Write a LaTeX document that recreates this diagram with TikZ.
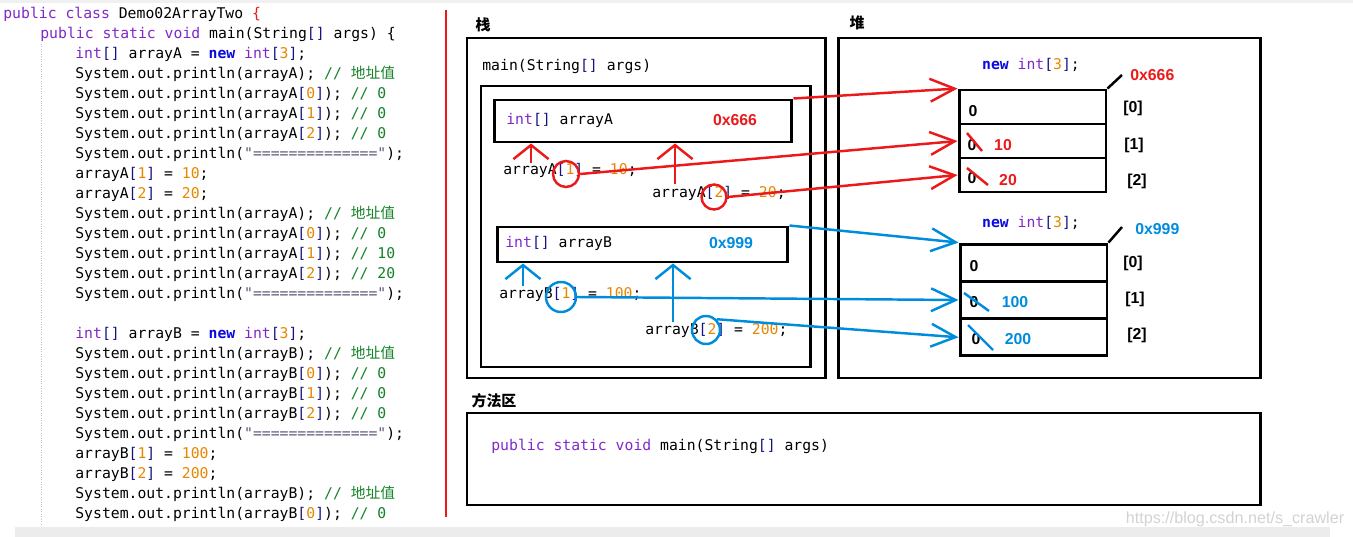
\documentclass[tikz,border=0pt]{standalone}
\usepackage{fontspec}
\setsansfont{Liberation Sans}
\setmonofont{DejaVu Sans Mono}
\newfontfamily\cjk{Noto Sans CJK SC}
\usetikzlibrary{arrows.meta}

\definecolor{kwcol}{RGB}{127,40,200}
\definecolor{newcol}{RGB}{10,10,220}
\definecolor{brcol}{RGB}{20,20,130}
\definecolor{numcol}{RGB}{230,135,0}
\definecolor{cmtcol}{RGB}{20,130,40}
\definecolor{strcol}{RGB}{90,90,120}
\definecolor{refred}{RGB}{235,25,25}
\definecolor{refblue}{RGB}{0,140,220}

\newcommand{\kwd}[1]{\textcolor{kwcol}{#1}}
\newcommand{\newkw}[1]{\textcolor{newcol}{\bfseries #1}}
\newcommand{\brk}[1]{\textcolor{brcol}{#1}}
\newcommand{\numb}[1]{\textcolor{numcol}{#1}}
\newcommand{\cmt}[1]{\textcolor{cmtcol}{#1}}
\newcommand{\strg}[1]{\textcolor{strcol}{#1}}
\newcommand{\addr}{\cmt{// {\cjk 地址值}}}

\begin{document}
\begin{tikzpicture}[x=0.02cm, y=-0.02cm,
        code/.style={anchor=west, inner sep=0pt, text height=7pt, text depth=2pt, font=\ttfamily\fontsize{8.4}{10}\selectfont},
        val/.style={inner sep=0pt, font=\sffamily\bfseries\fontsize{9}{10}\selectfont},
        head/.style={inner sep=0pt, font=\cjk\bfseries\fontsize{8.5}{10}\selectfont},
        frame/.style={line width=1.7pt},
        cell/.style={draw, line width=1.7pt, minimum width=2.94cm, inner sep=0pt},
        varbox/.style={draw, line width=1.7pt, inner sep=0pt},
        ring/.style={draw, circle, line width=1.4pt, inner sep=0pt},
        redarr/.style={draw, refred, line width=1.4pt, -{Straight Barb[length=14pt,width=13pt]}},
        bluearr/.style={draw, refblue, line width=1.4pt, -{Straight Barb[length=14pt,width=13pt]}},
        uparr/.style={draw, line width=1.4pt, -{Straight Barb[length=8pt,width=20pt]}}]
        \useasboundingbox (0,0) rectangle (1353,537);
        \fill[gray!12] (0,0) rectangle (1353,3);
        \fill[gray!15] (15,527) rectangle (1330,537);
        \draw[gray!50, densely dotted] (41,44) -- (41,525);
        \draw[refred, line width=1.4pt] (446,10) -- (446,517);

        % code
        \node[code] (c1) at (3,14) {\kwd{public class} Demo02ArrayTwo \textcolor{refred}{\{}};
        \node[code] (c2) at (40,34) {\kwd{public static void} main(String\brk{[]} args) \{};
        \node[code] (c3) at (75,54) {\kwd{int}\brk{[]} arrayA = \newkw{new} \kwd{int}\brk{[}\numb{3}\brk{]};};
        \node[code] (c4) at (75,74) {System.out.println(arrayA); \addr};
        \node[code] (c5) at (75,94) {System.out.println(arrayA\brk{[}\numb{0}\brk{]}); \cmt{// 0}};
        \node[code] (c6) at (75,114) {System.out.println(arrayA\brk{[}\numb{1}\brk{]}); \cmt{// 0}};
        \node[code] (c7) at (75,134) {System.out.println(arrayA\brk{[}\numb{2}\brk{]}); \cmt{// 0}};
        \node[code] (c8) at (75,154) {System.out.println(\strg{"=============="});};
        \node[code] (c9) at (75,174) {arrayA\brk{[}\numb{1}\brk{]} = \numb{10};};
        \node[code] (c10) at (75,194) {arrayA\brk{[}\numb{2}\brk{]} = \numb{20};};
        \node[code] (c11) at (75,214) {System.out.println(arrayA); \addr};
        \node[code] (c12) at (75,234) {System.out.println(arrayA\brk{[}\numb{0}\brk{]}); \cmt{// 0}};
        \node[code] (c13) at (75,254) {System.out.println(arrayA\brk{[}\numb{1}\brk{]}); \cmt{// 10}};
        \node[code] (c14) at (75,274) {System.out.println(arrayA\brk{[}\numb{2}\brk{]}); \cmt{// 20}};
        \node[code] (c15) at (75,294) {System.out.println(\strg{"=============="});};
        \node[code] (c16) at (75,334) {\kwd{int}\brk{[]} arrayB = \newkw{new} \kwd{int}\brk{[}\numb{3}\brk{]};};
        \node[code] (c17) at (75,354) {System.out.println(arrayB); \addr};
        \node[code] (c18) at (75,374) {System.out.println(arrayB\brk{[}\numb{0}\brk{]}); \cmt{// 0}};
        \node[code] (c19) at (75,394) {System.out.println(arrayB\brk{[}\numb{1}\brk{]}); \cmt{// 0}};
        \node[code] (c20) at (75,414) {System.out.println(arrayB\brk{[}\numb{2}\brk{]}); \cmt{// 0}};
        \node[code] (c21) at (75,434) {System.out.println(\strg{"=============="});};
        \node[code] (c22) at (75,454) {arrayB\brk{[}\numb{1}\brk{]} = \numb{100};};
        \node[code] (c23) at (75,474) {arrayB\brk{[}\numb{2}\brk{]} = \numb{200};};
        \node[code] (c24) at (75,494) {System.out.println(arrayB); \addr};
        \node[code] (c25) at (75,514) {System.out.println(arrayB\brk{[}\numb{0}\brk{]}); \cmt{// 0}};

        % stack
        \node[head] (hs) at (483,25) {栈};
        \draw[frame] (467,38) rectangle (825,378);
        \node[code] (mn) at (482,66) {main(String\brk{[]} args)};
        \draw[frame] (481,86) rectangle (810,367);
        \node[varbox, minimum width=5.96cm, minimum height=0.84cm] (va) at (643,121) {};
        \node[code] (ta) at (506,120) {\kwd{int}\brk{[]} arrayA};
        \node[val, refred] (pa) at (735,120) {0x666};
        \node[varbox, minimum width=5.82cm, minimum height=0.7cm] (vb) at (642.5,244.5) {};
        \node[code] (tb) at (505,243) {\kwd{int}\brk{[]} arrayB};
        \node[val, refblue] (pb) at (731,243) {0x999};
        \node[code] (sa1) at (503,170) {arrayA\brk{[}\numb{1}\brk{]} = \numb{10};};
        \node[code] (sa2) at (652,193) {arrayA\brk{[}\numb{2}\brk{]} = \numb{20};};
        \node[code] (sb1) at (499,294) {arrayB\brk{[}\numb{1}\brk{]} = \numb{100};};
        \node[code] (sb2) at (645,330) {arrayB\brk{[}\numb{2}\brk{]} = \numb{200};};
        \node[ring, refred, minimum size=0.52cm] (ca1) at (566,174) {};
        \node[ring, refred, minimum size=0.5cm] (ca2) at (714,197) {};
        \node[ring, refblue, minimum size=0.6cm] (cb1) at (561,297) {};
        \node[ring, refblue, minimum size=0.56cm] (cb2) at (706,330) {};
        \coordinate (ua1) at (531,163);
        \coordinate (ua2) at (675,184);
        \coordinate (ub1) at (523,286);
        \coordinate (ub2) at (673,322);
        \path[uparr, refred] (ua1) -- (va.south -| ua1);
        \path[uparr, refred] (ua2) -- (va.south -| ua2);
        \path[uparr, refblue] (ub1) -- (vb.south -| ub1);
        \path[uparr, refblue] (ub2) -- (vb.south -| ub2);

        % heap
        \node[head] (hh) at (857,23) {堆};
        \draw[frame] (838,38) rectangle (1260,378);
        \node[code, anchor=center] (na) at (1031,65) {\newkw{new} \kwd{int}\brk{[}\numb{3}\brk{]};};
        \node[cell, minimum height=0.68cm] (a0) at (1032.5,107) {};
        \node[cell, minimum height=0.68cm] (a1) at (1032.5,141) {};
        \node[cell, minimum height=0.68cm] (a2) at (1032.5,175) {};
        \coordinate (da) at (1122,75);
        \draw[line width=1.4pt] (a0.north east) -- (da);
        \node[val, refred, anchor=west] (ha) at (1130,75) {0x666};
        \node[val] (ia0) at (1133,108) {[0]};
        \node[val] (ia1) at (1134,145) {[1]};
        \node[val] (ia2) at (1137,181) {[2]};
        \node[val] (za0) at (973,111) {0};
        \node[val] (za1) at (972,145) {0};
        \node[val] (za2) at (972,178) {0};
        \draw[refred, line width=1.4pt] (967,133) -- (982,151);
        \draw[refred, line width=1.4pt] (967,168) -- (988,185);
        \node[val, refred] (xa1) at (1003,145) {10};
        \node[val, refred] (xa2) at (1008,180) {20};

        \node[code, anchor=center] (nb) at (1031,223) {\newkw{new} \kwd{int}\brk{[}\numb{3}\brk{]};};
        \node[cell, minimum height=0.746cm] (b0) at (1033.5,262.7) {};
        \node[cell, minimum height=0.746cm] (b1) at (1033.5,300) {};
        \node[cell, minimum height=0.746cm] (b2) at (1033.5,337.3) {};
        \coordinate (db) at (1122,227);
        \draw[line width=1.4pt] (b0.north east) -- (db);
        \node[val, refblue, anchor=west] (hb) at (1135,229) {0x999};
        \node[val] (ib0) at (1133,263) {[0]};
        \node[val] (ib1) at (1135,299) {[1]};
        \node[val] (ib2) at (1137,335) {[2]};
        \node[val] (zb0) at (974,266) {0};
        \node[val] (zb1) at (974,302) {0};
        \node[val] (zb2) at (976,339) {0};
        \draw[refblue, line width=1.4pt] (964,293) -- (989,311);
        \draw[refblue, line width=1.4pt] (968,325) -- (993,350);
        \node[val, refblue] (xb1) at (1015,302) {100};
        \node[val, refblue] (xb2) at (1018,339) {200};

        % references
        \path[redarr] (va.north east) -- (a0.north west);
        \path[redarr] (ca1.east) -- (a1.west);
        \path[redarr] (ca2.east) -- (a2.west);
        \path[bluearr] (vb.north east) -- (b0.north west);
        \path[bluearr] (cb1.east) -- (b1.west);
        \path[bluearr] (cb2.north east) -- (b2.west);

        % method area
        \node[head] (hm) at (494,401) {方法区};
        \draw[frame] (467,413) rectangle (1260,505);
        \node[code] (mm) at (491,446) {\kwd{public static void} main(String\brk{[]} args)};

        \node[inner sep=0pt, gray!35, font=\sffamily\fontsize{9.2}{10}\selectfont] (wm) at (1235,519) {https://blog.csdn.net/s\_crawler};
    \end{tikzpicture}
\end{document}
